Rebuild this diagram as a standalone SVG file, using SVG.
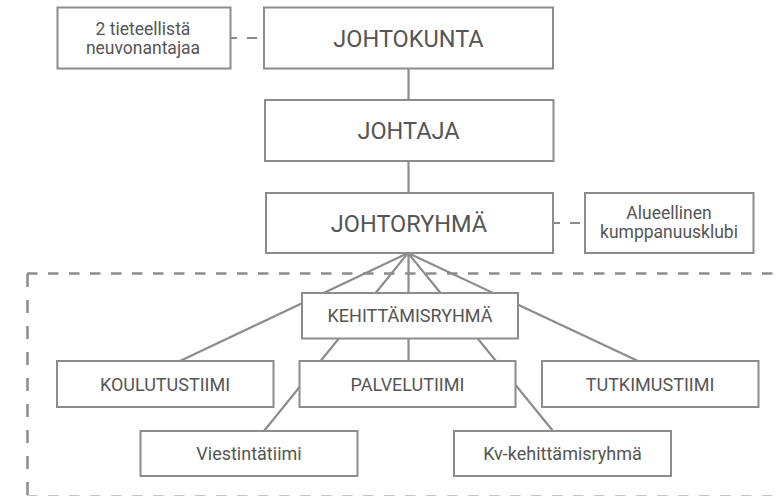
<svg xmlns="http://www.w3.org/2000/svg" width="778" height="496" viewBox="0 0 778 496">
<style>
.box{fill:#fff;stroke:#8c8c8c;stroke-width:2}
.ln{stroke:#8c8c8c;stroke-width:2.2;fill:none}
.dash{stroke:#8c8c8c;stroke-width:2.2;fill:none;stroke-dasharray:10 10}
text{font-family:Roboto,"Liberation Sans",sans-serif;font-weight:400;fill:#555;text-anchor:middle}
.big{font-size:23.5px}
.mid{font-size:18px}
.sm{font-size:17.5px}
</style>
<rect width="778" height="496" fill="#fff"/>
<g id="connectors">
<line class="dash" x1="227" y1="38" x2="264" y2="38"/>
<line class="dash" x1="550" y1="223" x2="585" y2="223"/>
<line class="ln" x1="408.5" y1="68" x2="408.5" y2="100"/>
<line class="ln" x1="408.5" y1="161" x2="408.5" y2="193"/>
<line class="ln" x1="408" y1="253" x2="180" y2="361"/>
<line class="ln" x1="408" y1="253" x2="264" y2="431"/>
<line class="ln" x1="408.5" y1="253" x2="408.5" y2="361"/>
<line class="ln" x1="408" y1="253" x2="553" y2="431"/>
<line class="ln" x1="408" y1="253" x2="638" y2="361"/>
</g>
<g id="region">
<line x1="27" y1="273.5" x2="790" y2="273.5" stroke="#8c8c8c" stroke-width="2.5" stroke-dasharray="10.5 10.5"/>
<line x1="27.5" y1="274" x2="27.5" y2="496" stroke="#8c8c8c" stroke-width="2.5" stroke-dasharray="13 13"/>
<line x1="27" y1="496.5" x2="790" y2="496.5" stroke="#8c8c8c" stroke-width="2" stroke-dasharray="10.5 10.5"/>
</g>
<g id="neuvonantajat">
<rect class="box" x="57.5" y="7.5" width="173" height="61"/>
<text class="sm" x="143" y="35">2 tieteellistä</text>
<text class="sm" x="143" y="54">neuvonantajaa</text>
</g>
<g id="johtokunta">
<rect class="box" x="264" y="7.5" width="289" height="61"/>
<text class="big" x="408.5" y="46.5">JOHTOKUNTA</text>
</g>
<g id="johtaja">
<rect class="box" x="265" y="100" width="288.5" height="61"/>
<text class="big" x="408.5" y="139">JOHTAJA</text>
</g>
<g id="johtoryhma">
<rect class="box" x="266" y="193" width="287" height="60"/>
<text class="big" x="409" y="231.5">JOHTORYHMÄ</text>
</g>
<g id="kumppanuusklubi">
<rect class="box" x="585" y="193" width="168.5" height="60"/>
<text class="sm" x="669" y="218.5">Alueellinen</text>
<text class="sm" x="669" y="237.5">kumppanuusklubi</text>
</g>
<g id="kehittamisryhma">
<rect class="box" x="302" y="293" width="216" height="45.5"/>
<text class="mid" x="410" y="322">KEHITTÄMISRYHMÄ</text>
</g>
<g id="koulutustiimi">
<rect class="box" x="57" y="361" width="216.5" height="46"/>
<text class="mid" x="165" y="390.5">KOULUTUSTIIMI</text>
</g>
<g id="palvelutiimi">
<rect class="box" x="299.5" y="361" width="216" height="46"/>
<text class="mid" x="407.5" y="390.5">PALVELUTIIMI</text>
</g>
<g id="tutkimustiimi">
<rect class="box" x="542" y="361" width="216.5" height="46"/>
<text class="mid" x="650" y="390.5">TUTKIMUSTIIMI</text>
</g>
<g id="viestintatiimi">
<rect class="box" x="140.5" y="431" width="217" height="45"/>
<text class="mid" x="249" y="460">Viestintätiimi</text>
</g>
<g id="kv-kehittamisryhma">
<rect class="box" x="454" y="431" width="217" height="45"/>
<text class="mid" x="562.5" y="460">Kv-kehittämisryhmä</text>
</g>
</svg>
